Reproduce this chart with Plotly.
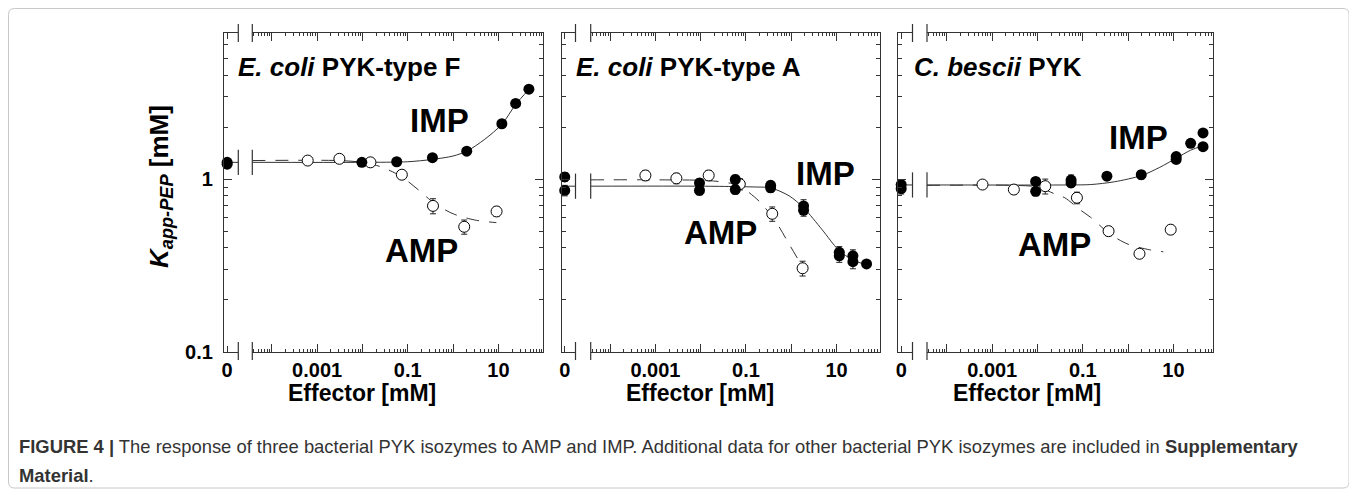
import plotly.graph_objects as go

# The page body keeps the browser's default 8 px margin, so the figure is
# sized to fill the rest of the 1357x496 window; pixel positions below are
# window pixels and are converted with OFF.
WIN_W, WIN_H = 1357, 496
OFF = 8
W, H = WIN_W - OFF, WIN_H - OFF
FONT = "Liberation Sans, Arial, sans-serif"

# ---------------- data ----------------
# Panel 1: E. coli PYK-type F
zero_y_F = [1.25, 1.22]
amp_x_F = [0.00062, 0.0031, 0.015, 0.074, 0.36, 1.76, 9.1]
amp_y_F = [1.28, 1.31, 1.25, 1.06, 0.70, 0.53, 0.65]
amp_e_F = [0.05, 0.06, 0.07, 0.05, 0.07, 0.05, 0.04]
imp_x_F = [0.0097, 0.057, 0.35, 2.0, 11.9, 24, 47]
imp_y_F = [1.25, 1.26, 1.33, 1.45, 2.09, 2.74, 3.31]
imp_e_F = [0.04, 0.05, 0.05, 0.04, 0.05, 0.05, 0.06]
fit_imp_x_F = [3.7e-5, 0.01, 0.1, 0.35, 1, 2, 5, 12, 24, 47]
fit_imp_y_F = [1.25, 1.25, 1.26, 1.30, 1.36, 1.45, 1.70, 2.08, 2.70, 3.30]
fit_amp_x_F = [3.7e-5, 0.003, 0.01, 0.025, 0.07, 0.16, 0.4, 1, 3, 9]
fit_amp_y_F = [1.28, 1.28, 1.25, 1.18, 1.04, 0.88, 0.72, 0.63, 0.58, 0.56]

# Panel 2: E. coli PYK-type A
zero_y_A = [1.03, 0.86]
amp_x_A = [0.0006, 0.0029, 0.015, 0.073, 0.38, 1.78]
amp_y_A = [1.05, 1.01, 1.05, 0.935, 0.63, 0.305]
amp_e_A = [0.07, 0.07, 0.07, 0.07, 0.06, 0.03]
imp_x_A = [0.0094, 0.0094, 0.058, 0.058, 0.35, 0.35, 1.87, 1.87, 11.5, 11.5, 23, 23, 46]
imp_y_A = [0.95, 0.86, 0.995, 0.87, 0.92, 0.89, 0.70, 0.66, 0.377, 0.36, 0.36, 0.333, 0.323]
imp_e_A = [0.05, 0.05, 0.06, 0.05, 0.05, 0.05, 0.06, 0.05, 0.03, 0.03, 0.03, 0.03, 0.01]
fit_imp_x_A = [3.7e-5, 0.01, 0.06, 0.16, 0.35, 0.9, 1.9, 4.8, 11, 23, 46]
fit_imp_y_A = [0.91, 0.91, 0.905, 0.90, 0.89, 0.80, 0.68, 0.51, 0.39, 0.34, 0.32]
fit_amp_x_A = [3.7e-5, 0.001, 0.015, 0.05, 0.1, 0.2, 0.45, 0.9, 1.78]
fit_amp_y_A = [0.99, 0.99, 0.98, 0.94, 0.86, 0.74, 0.57, 0.42, 0.31]

# Panel 3: C. bescii PYK
zero_y_C = [0.93, 0.88]
amp_x_C = [0.00061, 0.003, 0.0148, 0.074, 0.37, 1.78, 8.7]
amp_y_C = [0.93, 0.87, 0.91, 0.78, 0.50, 0.37, 0.51]
amp_e_C = [0.04, 0.05, 0.09, 0.06, 0.03, 0.02, 0.03]
imp_x_C = [0.0091, 0.0091, 0.055, 0.055, 0.34, 1.95, 11.5, 11.5, 24, 45, 45]
imp_y_C = [0.97, 0.85, 0.987, 0.95, 1.04, 1.06, 1.35, 1.30, 1.61, 1.85, 1.54]
imp_e_C = [0.05, 0.05, 0.07, 0.05, 0.05, 0.06, 0.05, 0.05, 0.03, 0.03, 0.03]
fit_imp_x_C = [3.6e-5, 0.05, 0.15, 0.5, 2, 5, 11.5, 24, 45]
fit_imp_y_C = [0.925, 0.925, 0.93, 0.965, 1.05, 1.17, 1.32, 1.47, 1.56]
fit_amp_x_C = [3.6e-5, 0.003, 0.01, 0.027, 0.04, 0.09, 0.15, 0.4, 1, 3, 6]
fit_amp_y_C = [0.92, 0.92, 0.90, 0.81, 0.78, 0.66, 0.60, 0.48, 0.42, 0.39, 0.38]

titles = ["<i>E. coli</i> PYK-type F", "<i>E. coli</i> PYK-type A", "<i>C. bescii</i> PYK"]
x_ticks = [1e-4, 1e-3, 1e-2, 1e-1, 1, 10, 100]
x_ticktext = ["", "0.001", "", "0.1", "", "10", ""]
y_ticks = [0.1, 1]
y_ticktext = ["0.1", "1"]
caption1 = ("<b>FIGURE 4 |</b> The response of three bacterial PYK isozymes to AMP and IMP. "
            "Additional data for other bacterial PYK isozymes are included in <b>Supplementary</b>")
caption2 = "<b>Material</b>."

panels = [
    dict(zero_y=zero_y_F, amp=(amp_x_F, amp_y_F, amp_e_F), imp=(imp_x_F, imp_y_F, imp_e_F),
         fimp=(fit_imp_x_F, fit_imp_y_F), famp=(fit_amp_x_F, fit_amp_y_F)),
    dict(zero_y=zero_y_A, amp=(amp_x_A, amp_y_A, amp_e_A), imp=(imp_x_A, imp_y_A, imp_e_A),
         fimp=(fit_imp_x_A, fit_imp_y_A), famp=(fit_amp_x_A, fit_amp_y_A)),
    dict(zero_y=zero_y_C, amp=(amp_x_C, amp_y_C, amp_e_C), imp=(imp_x_C, imp_y_C, imp_e_C),
         fimp=(fit_imp_x_C, fit_imp_y_C), famp=(fit_amp_x_C, fit_amp_y_C)),
]

# ---------------- layout geometry (window pixels) ----------------
geom = [
    dict(zero=(224, 238.3), log=(252.3, 543.3), xr=(-4.43, 1.99),
         title=(236, 67), imp=(439, 120), amp=(421, 250), xt=362),
    dict(zero=(561.7, 575.5), log=(590.7, 880), xr=(-4.43, 1.96),
         title=(574, 67), imp=(825, 173), amp=(720, 232), xt=700),
    dict(zero=(898, 912.5), log=(927, 1213.3), xr=(-4.44, 1.88),
         title=(912, 67), imp=(1138, 137), amp=(1054, 245), xt=1027),
]
Y_TOP, Y_BOT = 33, 352
YR = [-1, 0.845]
ZR = [-0.22, 0.78]


def fx(p):
    return (p - OFF) / W


def fy(p):
    return 1 - (p - OFF) / H


AX = "#333333"
minor_y = [v * m for v in (0.1, 1) for m in range(2, 10) if v * m < 7]
minor_x = [d * m for d in (1e-5, 1e-4, 1e-3, 1e-2, 1e-1, 1, 10) for m in range(2, 10)]

fig = go.Figure()
layout = dict(
    width=W, height=H, margin=dict(l=0, r=0, t=0, b=0, pad=0, autoexpand=False),
    paper_bgcolor="white", plot_bgcolor="white", showlegend=False,
    font=dict(family=FONT, color="black"),
)
ydom = [fy(Y_BOT), fy(Y_TOP)]
annotations = []
shapes = []

for k, (p, g) in enumerate(zip(panels, geom)):
    iz, il = 2 * k + 1, 2 * k + 2
    xz, xl = f"x{iz}", f"x{il}"
    yz, yl = f"y{iz}", f"y{il}"
    common_x = dict(showline=True, linecolor=AX, linewidth=1.2, ticks="inside", tickcolor=AX,
                    tickwidth=1, mirror="ticks", showgrid=False, zeroline=False, automargin=False,
                    tickfont=dict(family=FONT, size=20, color="black"))
    layout[f"xaxis{iz}"] = dict(common_x, domain=[fx(g["zero"][0]), fx(g["zero"][1])], anchor=yz,
                                range=ZR, tickmode="array", tickvals=[0], ticktext=["<b>0</b>"],
                                ticklen=6, ticklabelstandoff=0)
    layout[f"xaxis{il}"] = dict(common_x, domain=[fx(g["log"][0]), fx(g["log"][1])], anchor=yl,
                                type="log", range=list(g["xr"]), tickmode="array",
                                tickvals=x_ticks, ticktext=[f"<b>{t}</b>" if t else "" for t in x_ticktext],
                                ticklen=8, ticklabelstandoff=0,
                                minor=dict(tickmode="array", tickvals=minor_x, ticks="inside",
                                           ticklen=3, tickcolor=AX, tickwidth=1, showgrid=False))
    common_y = dict(showline=True, linecolor=AX, linewidth=1.2, ticks="inside", tickcolor=AX,
                    tickwidth=1, showgrid=False, zeroline=False, type="log", range=YR,
                    domain=ydom, tickmode="array", tickvals=y_ticks, ticklen=8, automargin=False,
                    minor=dict(tickmode="array", tickvals=minor_y, ticks="inside",
                               ticklen=4, tickcolor=AX, tickwidth=1, showgrid=False),
                    tickfont=dict(family=FONT, size=20, color="black"))
    layout[f"yaxis{iz}"] = dict(common_y, anchor=xz, side="left",
                                ticktext=[f"<b>{t}</b>" for t in y_ticktext],
                                showticklabels=(k == 0), ticklabelstandoff=6)
    layout[f"yaxis{il}"] = dict(common_y, anchor=xl, side="right", showticklabels=False)

    # ---- fit lines ----
    fimp_x, fimp_y = p["fimp"]
    famp_x, famp_y = p["famp"]
    fig.add_trace(go.Scatter(x=famp_x, y=famp_y, mode="lines", xaxis=xl, yaxis=yl,
                             line=dict(color="#333", width=1, dash="13px,10px", shape="spline",
                                       smoothing=0.8), hoverinfo="skip"))
    fig.add_trace(go.Scatter(x=fimp_x, y=fimp_y, mode="lines", xaxis=xl, yaxis=yl,
                             line=dict(color="#333", width=1, shape="spline", smoothing=0.8),
                             hoverinfo="skip"))
    # line in the zero section + break bars
    fig.add_trace(go.Scatter(x=[0, ZR[1]], y=[fimp_y[0], fimp_y[0]], mode="lines",
                             xaxis=xz, yaxis=yz, line=dict(color="#333", width=1),
                             hoverinfo="skip"))
    fig.add_trace(go.Scatter(x=[ZR[1]], y=[fimp_y[0]], mode="markers", xaxis=xz, yaxis=yz,
                             cliponaxis=False,
                             marker=dict(symbol="line-ns", size=18, line=dict(color="#333", width=1.2)),
                             hoverinfo="skip"))
    fig.add_trace(go.Scatter(x=[10 ** g["xr"][0]], y=[fimp_y[0]], mode="markers", xaxis=xl, yaxis=yl,
                             cliponaxis=False,
                             marker=dict(symbol="line-ns", size=18, line=dict(color="#333", width=1.2)),
                             hoverinfo="skip"))

    # ---- data points ----
    ax_, ay_, ae_ = p["amp"]
    ix_, iy_, ie_ = p["imp"]
    err_style = dict(type="data", thickness=1, width=3, color="#222")
    fig.add_trace(go.Scatter(x=[0] * len(p["zero_y"]), y=p["zero_y"], mode="markers",
                             xaxis=xz, yaxis=yz, cliponaxis=False,
                             error_y=dict(err_style, array=[0.06] * len(p["zero_y"])),
                             marker=dict(symbol="circle", size=11, color="black")))
    fig.add_trace(go.Scatter(x=ax_, y=ay_, mode="markers", xaxis=xl, yaxis=yl,
                             error_y=dict(err_style, array=ae_),
                             marker=dict(symbol="circle", size=11, color="white",
                                         line=dict(color="black", width=1))))
    fig.add_trace(go.Scatter(x=ix_, y=iy_, mode="markers", xaxis=xl, yaxis=yl,
                             error_y=dict(err_style, array=ie_),
                             marker=dict(symbol="circle", size=11, color="black")))

    # ---- axis break marks (top and bottom) ----
    for xp in (g["zero"][1], g["log"][0]):
        for (y0, y1) in ((342, 360), (24, 42)):
            shapes.append(dict(type="line", xref="paper", yref="paper", x0=fx(xp), x1=fx(xp),
                               y0=fy(y0), y1=fy(y1), line=dict(color=AX, width=1.2)))

    # ---- texts ----
    annotations.append(dict(x=fx(g["title"][0]), y=fy(g["title"][1]), xref="paper", yref="paper",
                            text=f"<b>{titles[k]}</b>", showarrow=False, xanchor="left",
                            yanchor="middle", font=dict(family=FONT, size=26, color="black")))
    annotations.append(dict(x=fx(g["imp"][0]), y=fy(g["imp"][1]), xref="paper", yref="paper",
                            text="<b>IMP</b>", showarrow=False, xanchor="center", yanchor="middle",
                            font=dict(family=FONT, size=33, color="black")))
    annotations.append(dict(x=fx(g["amp"][0]), y=fy(g["amp"][1]), xref="paper", yref="paper",
                            text="<b>AMP</b>", showarrow=False, xanchor="center", yanchor="middle",
                            font=dict(family=FONT, size=33, color="black")))
    annotations.append(dict(x=fx(g["xt"]), y=fy(393), xref="paper", yref="paper",
                            text="<b>Effector [mM]</b>", showarrow=False, xanchor="center",
                            yanchor="middle", font=dict(family=FONT, size=23, color="black")))

annotations.append(dict(x=fx(160), y=fy(187), xref="paper", yref="paper", textangle=-90,
                        text="<b><i>K</i><sub><i>app-PEP</i></sub> [mM]</b>", showarrow=False,
                        xanchor="center", yanchor="middle",
                        font=dict(family=FONT, size=26, color="black")))
annotations.append(dict(x=fx(17), y=fy(446), xref="paper", yref="paper", text=caption1,
                        showarrow=False, xanchor="left", yanchor="middle",
                        font=dict(family=FONT, size=18.4, color="#333")))
annotations.append(dict(x=fx(17), y=fy(475), xref="paper", yref="paper", text=caption2,
                        showarrow=False, xanchor="left", yanchor="middle",
                        font=dict(family=FONT, size=18.4, color="#333")))

# outer rounded frame
r = 6
x0, x1, y0, y1 = 8.5, 1349, 8.5, 488
path = (f"M {fx(x0 + r)},{fy(y0)} L {fx(x1 - r)},{fy(y0)} Q {fx(x1)},{fy(y0)} {fx(x1)},{fy(y0 + r)} "
        f"L {fx(x1)},{fy(y1 - r)} Q {fx(x1)},{fy(y1)} {fx(x1 - r)},{fy(y1)} "
        f"L {fx(x0 + r)},{fy(y1)} Q {fx(x0)},{fy(y1)} {fx(x0)},{fy(y1 - r)} "
        f"L {fx(x0)},{fy(y0 + r)} Q {fx(x0)},{fy(y0)} {fx(x0 + r)},{fy(y0)} Z")
shapes.append(dict(type="path", xref="paper", yref="paper", path=path,
                   line=dict(color="#c8c8c8", width=1)))

layout["annotations"] = annotations
layout["shapes"] = shapes
fig.update_layout(**layout)

fig.write_html("out.html", config={"displayModeBar": False})
